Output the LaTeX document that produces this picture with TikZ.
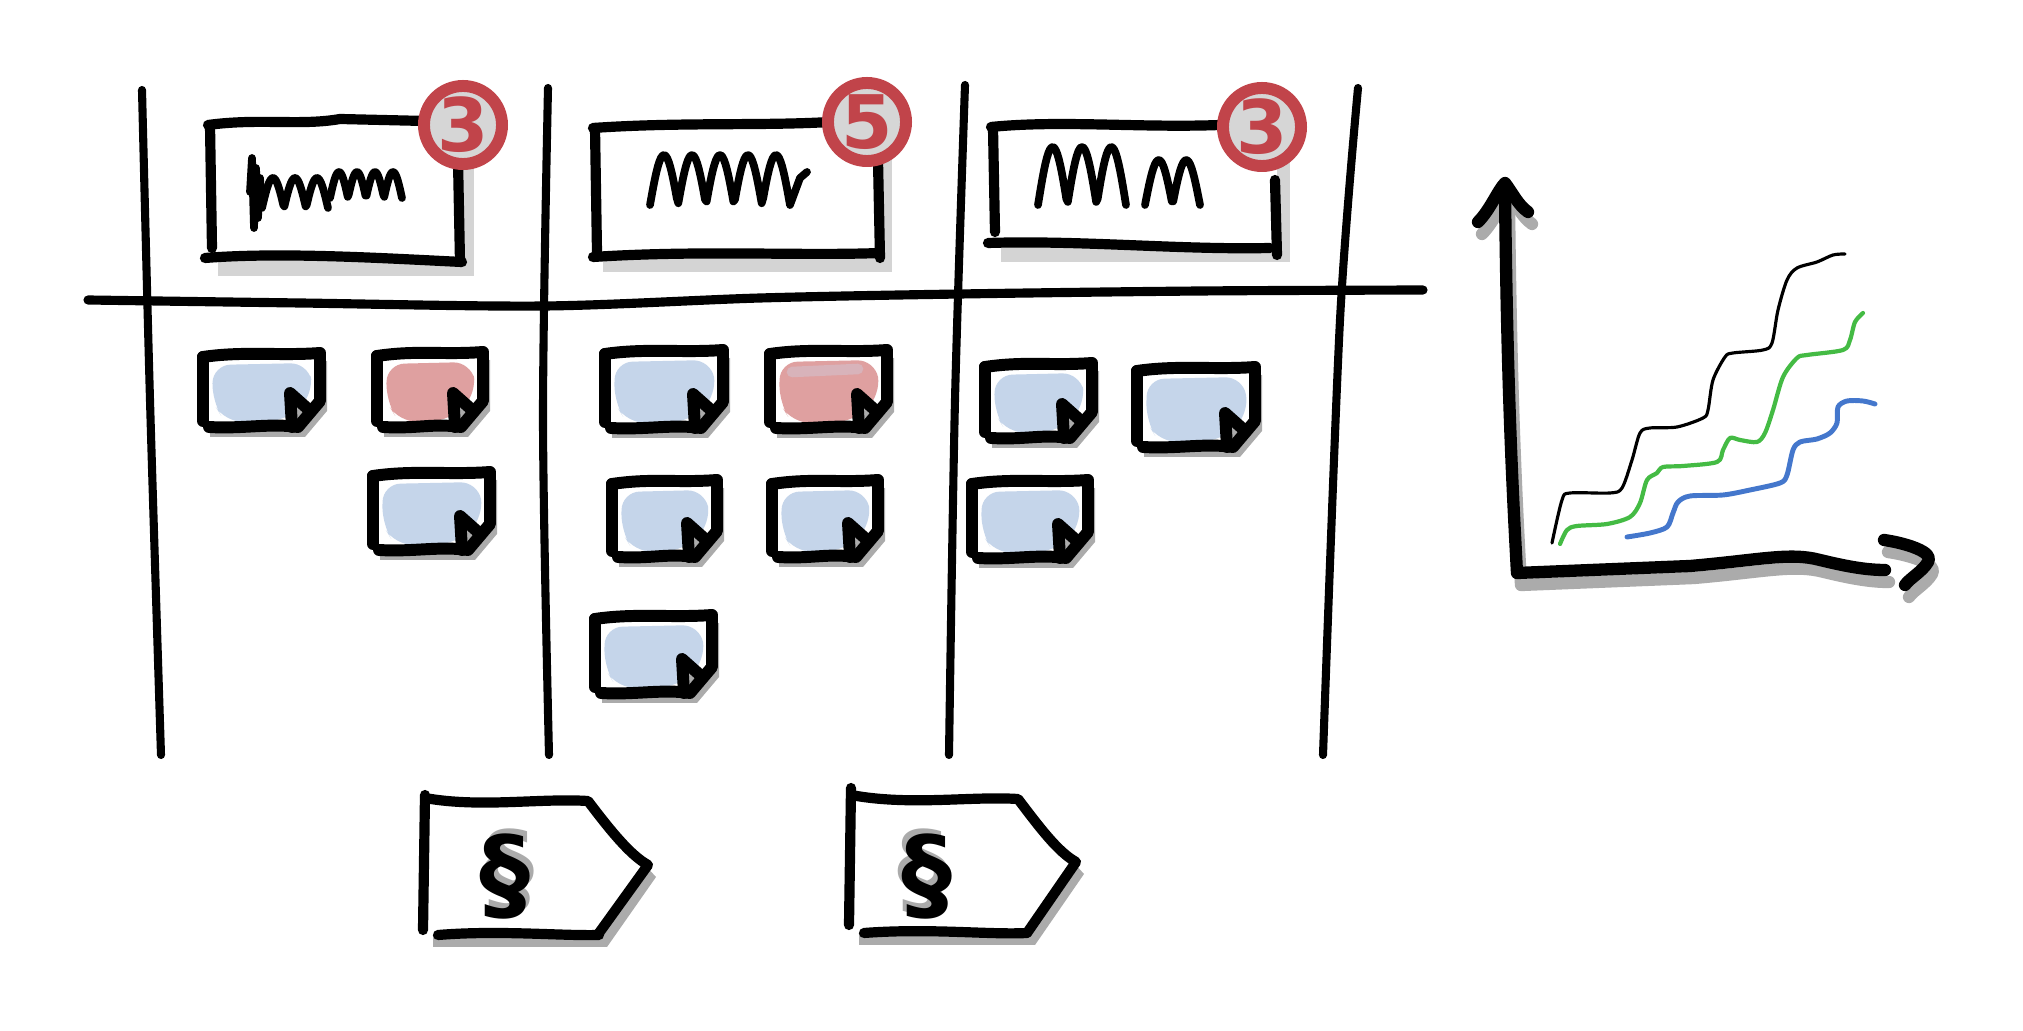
\documentclass[tikz,border=0pt]{standalone}
\usepackage{fontspec}
\setmainfont{DejaVu Sans}
\usetikzlibrary{positioning}
\definecolor{shadelight}{HTML}{D4D4D4}
\definecolor{shadedark}{HTML}{ABABAB}
\definecolor{blob}{HTML}{C5D5EA}
\definecolor{redblob}{HTML}{DFA0A0}
\definecolor{redglow}{HTML}{D8B3BA}
\definecolor{badgered}{HTML}{C1444A}
\definecolor{badgefill}{HTML}{D6D6D6}
\definecolor{greenline}{HTML}{44BB44}
\definecolor{blueline}{HTML}{4477CC}
\tikzset{% pens of the sketch
  board/.style={line width=2.3pt, line cap=round},
  ink/.style={line width=2.9pt, line cap=round, line join=round},
  notepen/.style={line width=3.4pt, line cap=round, line join=round},
  scrawl/.style={line width=2.2pt, line cap=round, line join=round},
  axispen/.style={line width=3.5pt, line cap=round, line join=round},
  trend/.style={line cap=round, line join=round},
  limitbadge/.style={circle, draw=badgered, fill=badgefill, line width=3.4pt,
    minimum size=0.78cm, inner sep=0pt, text=badgered,
    font=\fontsize{21}{21}\selectfont\bfseries},
  paragraphmark/.style={inner sep=0pt, font=\fontsize{29}{29}\selectfont\bfseries}
}
% sticky note: left, top, right, bottom, blob colour
\newcommand{\stickynote}[5]{%
  \fill[shadedark] ({#1+7},{#2+10}) -- ({#3+7},{#2+8}) -- ({#3+7},{#4-16}) -- ({#3-15},{#4+10}) -- ({#1+7},{#4+10}) -- cycle;
  \fill[white] (#1,{#2+2}) -- (#3,#2) -- (#3,{#4-26}) -- ({#3-22},#4) -- (#1,#4) -- cycle;
  \fill[#5, rounded corners=5pt] ({#1+10},{#2+12}) -- ({#3-12},{#2+10}) -- ({#3-6},{#4-34}) -- ({#3-34},{#4-6}) -- ({#1+22},{#4-5}) -- ({#1+9},{#4-26}) -- cycle;
  \fill[shadedark] ({#3-28},#4) -- ({#3-30},{#4-34}) -- ({#3-12},{#4-18}) -- cycle;
  \draw[notepen] (#1,{#2+4}) .. controls ({#1+40},{#2-2}) and ({#3-40},{#2+3}) .. (#3,#2) -- (#3,{#4-26}) -- ({#3-22},#4) .. controls ({#3-50},{#4-4}) and ({#1+40},{#4+2}) .. ({#1+6},#4);
  \draw[notepen] (#1,{#4-6}) -- (#1,{#2+4});
  \draw[notepen] ({#3-28},#4) -- ({#3-30},{#4-34}) -- ({#3-12},{#4-18});
}

\begin{document}
\begin{tikzpicture}[x=0.01cm, y=-0.01cm]
\useasboundingbox (0,0) rectangle (2023,1031);

% board
\draw[board] plot[smooth] coordinates {(142,90) (150,400) (161,755)};
\draw[board] plot[smooth] coordinates {(548,88) (543,420) (549,755)};
\draw[board] plot[smooth] coordinates {(965,85) (955,400) (949,755)};
\draw[board] plot[smooth] coordinates {(1358,88) (1340,320) (1323,755)};
\draw[board, line width=2.6pt] plot[smooth] coordinates {(88,300) (300,303) (545,306) (760,298) (960,294) (1200,291) (1423,290)};

% column headers
\fill[shadelight] (218,136) rectangle (474,276);
\fill[white] (210,122) rectangle (460,260);
\draw[ink] (208,125) .. controls (260,118) and (300,126) .. (340,119) -- (425,121);
\draw[ink] (210,125) -- (212,248);
\draw[ink] (205,258) .. controls (280,252) and (380,258) .. (462,262);
\draw[ink] (458,160) -- (460,262);
\draw[scrawl] (250,192) -- (252,158) -- (254,228) -- (256,168) -- (258,218) -- (260,178) -- (262,206);
\draw[scrawl] plot[domain=0:540, samples=60] ({262+\x/540*66},{208-30*abs(sin(\x))});
\draw[scrawl] plot[domain=0:720, samples=70] ({330+\x/720*72},{198-26*abs(sin(\x))});
\node[limitbadge] (badgeA) at (463,125) {3};

\fill[shadelight] (603,140) rectangle (892,272);
\fill[white] (595,125) rectangle (880,258);
\draw[ink] (593,128) .. controls (680,122) and (760,126) .. (830,122);
\draw[ink] (595,128) -- (597,252);
\draw[ink] (593,257) .. controls (700,250) and (800,256) .. (880,253);
\draw[ink] (878,160) -- (880,258);
\draw[scrawl] plot[domain=0:900, samples=90] ({650+\x/900*140},{205-50*abs(sin(\x))}) -- (800,178) -- (807,172);
\node[limitbadge] (badgeB) at (867,122) {5};

\fill[shadelight] (1001,138) rectangle (1290,262);
\fill[white] (993,125) rectangle (1277,245);
\draw[ink] (991,127) .. controls (1060,120) and (1140,128) .. (1220,125);
\draw[ink] (993,128) -- (995,232);
\draw[ink] (988,243) .. controls (1080,240) and (1180,250) .. (1270,248);
\draw[ink] (1275,180) -- (1277,255);
\draw[scrawl] plot[domain=0:540, samples=60] ({1038+\x/540*88},{205-58*abs(sin(\x))});
\draw[scrawl] plot[domain=0:360, samples=40] ({1145+\x/360*55},{205-45*abs(sin(\x))});
\node[limitbadge] (badgeC) at (1262,127) {3};

% sticky notes
\stickynote{203}{353}{320}{427}{blob}
\stickynote{377}{352}{483}{427}{redblob}
\stickynote{373}{472}{490}{550}{blob}
\stickynote{605}{350}{723}{428}{blob}
\stickynote{770}{350}{887}{428}{redblob}
\draw[redglow, line width=3pt, line cap=round] (792,372) -- (858,369);
\stickynote{612}{480}{717}{557}{blob}
\stickynote{772}{480}{878}{557}{blob}
\stickynote{595}{615}{712}{693}{blob}
\stickynote{985}{363}{1092}{438}{blob}
\stickynote{1137}{367}{1255}{447}{blob}
\stickynote{972}{480}{1088}{558}{blob}

% release flags
\fill[shadedark] (433,812) -- (596,812) -- (656,877) -- (607,947) -- (433,947) -- cycle;
\fill[white] (425,800) -- (588,800) -- (648,865) -- (599,935) -- (425,935) -- cycle;
\draw[ink] (425,798) .. controls (480,808) and (540,798) .. (588,801) .. controls (610,830) and (630,855) .. (648,865) -- (599,933);
\draw[ink] (425,795) -- (423,930);
\draw[ink] (438,935) .. controls (500,930) and (560,936) .. (599,935);
\node[paragraphmark, text=shadedark] (sectAshade) at (509,872) {\S};
\node[paragraphmark] (sectA) at (505,877) {\S};

\fill[shadedark] (859,810) -- (1026,810) -- (1084,874) -- (1035,945) -- (859,945) -- cycle;
\fill[white] (851,798) -- (1018,798) -- (1076,862) -- (1027,933) -- (851,933) -- cycle;
\draw[ink] (851,795) .. controls (910,806) and (970,796) .. (1018,799) .. controls (1040,828) and (1058,852) .. (1076,862) -- (1027,933);
\draw[ink] (851,788) -- (849,925);
\draw[ink] (864,933) .. controls (930,928) and (990,935) .. (1027,933);
\node[paragraphmark, text=shadedark] (sectBshade) at (923,872) {\S};
\node[paragraphmark] (sectB) at (927,877) {\S};

% chart
\begin{scope}[shift={(4,12)}]
\draw[axispen, shadedark] (1505,190) .. controls (1507,380) and (1512,480) .. (1517,573) -- (1690,566) .. controls (1760,560) and (1790,552) .. (1820,560) .. controls (1845,566) and (1865,570) .. (1885,570);
\draw[axispen, shadedark] (1478,222) .. controls (1490,210) and (1498,190) .. (1505,183) .. controls (1512,192) and (1518,205) .. (1528,212);
\draw[axispen, shadedark] (1884,540) .. controls (1905,543) and (1935,552) .. (1928,562) .. controls (1922,572) and (1910,578) .. (1905,585);
\end{scope}
\draw[axispen] (1505,190) .. controls (1507,380) and (1512,480) .. (1517,573) -- (1690,566) .. controls (1760,560) and (1790,552) .. (1820,560) .. controls (1845,566) and (1865,570) .. (1885,570);
\draw[axispen] (1478,222) .. controls (1490,210) and (1498,190) .. (1505,183) .. controls (1512,192) and (1518,205) .. (1528,212);
\draw[axispen] (1884,540) .. controls (1905,543) and (1935,552) .. (1928,562) .. controls (1922,572) and (1910,578) .. (1905,585);

\draw[trend, line width=0.9pt] plot[smooth] coordinates {(1552,543) (1562,500) (1570,493) (1610,493) (1622,488) (1632,460) (1640,433) (1650,428) (1677,427) (1703,418) (1708,410) (1713,380) (1725,357) (1733,353) (1763,350) (1772,343) (1778,310) (1787,280) (1797,268) (1817,262) (1833,255) (1845,254)};
\draw[trend, greenline, line width=1.2pt] plot[smooth] coordinates {(1560,544) (1567,530) (1577,526) (1607,524) (1630,517) (1640,503) (1647,480) (1657,473) (1663,467) (1683,466) (1717,462) (1723,450) (1730,438) (1740,440) (1757,442) (1765,433) (1773,410) (1783,377) (1797,358) (1807,355) (1843,350) (1850,340) (1855,322) (1863,313)};
\draw[trend, blueline, line width=1.4pt] plot[smooth] coordinates {(1627,537) (1650,533) (1667,527) (1673,513) (1678,502) (1690,496) (1723,495) (1750,490) (1780,483) (1787,475) (1793,450) (1800,442) (1817,439) (1830,433) (1837,423) (1838,407) (1847,401) (1863,401) (1875,404)};
\end{tikzpicture}
\end{document}
